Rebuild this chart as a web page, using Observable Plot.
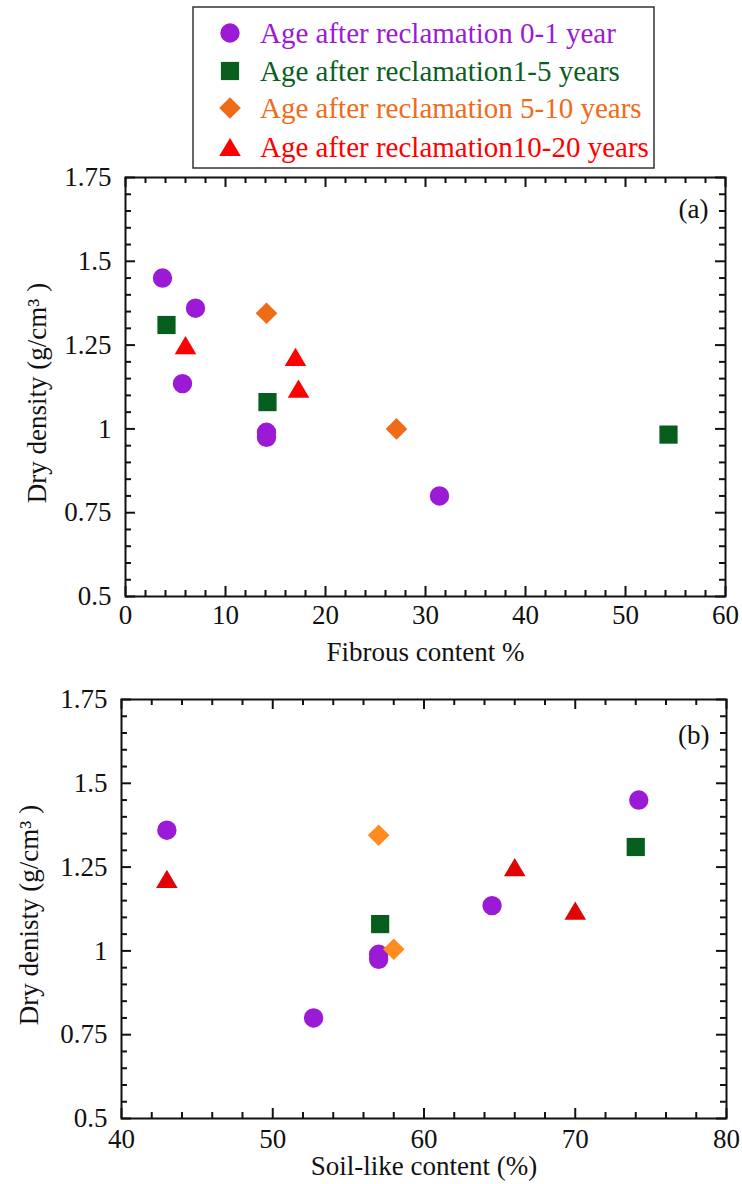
<!DOCTYPE html>
<html><head><meta charset="utf-8">
<script src="https://cdn.jsdelivr.net/npm/d3@7"></script>
<script src="https://cdn.jsdelivr.net/npm/@observablehq/plot@0.6"></script>
<style>
html,body{margin:0;padding:0;background:#fff;}
#wrap{position:relative;width:742px;height:1184px;overflow:hidden;font-family:"Liberation Serif","Times New Roman",serif;}
#wrap > svg{position:absolute;left:0;}
</style></head>
<body><div id="wrap"></div>
<script>
// ---------- data ----------
const seriesNames = ["Age after reclamation 0-1 year", "Age after reclamation1-5 years", "Age after reclamation 5-10 years", "Age after reclamation10-20 years"];
const legendColors = ["#9b1ad6", "#0a5f1f", "#f06b18", "#ff0000"];
const colorsA = ["#9b1ad6", "#065e1e", "#f06b16", "#ff0000"];
const colorsB = ["#9b1ad6", "#065e1e", "#ff8c1f", "#e00505"];

// Panel (a): fibrous content % vs dry density
const fibrous0_1 = [3.7, 7.0, 5.7, 14.1, 14.1, 31.4];
const densityA0_1 = [1.45, 1.36, 1.135, 0.99, 0.975, 0.80];
const fibrous1_5 = [4.1, 14.2, 54.3];
const densityA1_5 = [1.31, 1.08, 0.983];
const fibrous5_10 = [14.1, 27.1];
const densityA5_10 = [1.345, 1.0];
const fibrous10_20 = [6.0, 17.0, 17.3];
const densityA10_20 = [1.25, 1.215, 1.12];

// Panel (b): soil-like content % vs dry density
const soil0_1 = [74.2, 43.0, 64.5, 57.0, 57.0, 52.7];
const densityB0_1 = [1.45, 1.36, 1.135, 0.99, 0.975, 0.80];
const soil1_5 = [74.0, 57.1];
const densityB1_5 = [1.31, 1.08];
const soil5_10 = [57.0, 58.0];
const densityB5_10 = [1.345, 1.005];
const soil10_20 = [66.0, 43.0, 70.0];
const densityB10_20 = [1.25, 1.215, 1.12];

// ticks
const yDomain = [0.5, 1.75];
const yTicks = [0.5, 0.75, 1, 1.25, 1.5, 1.75];
const yTickLabels = ["0.5", "0.75", "1", "1.25", "1.5", "1.75"];
const yMinor = [0.55,0.6,0.65,0.7,0.8,0.85,0.9,0.95,1.05,1.1,1.15,1.2,1.3,1.35,1.4,1.45,1.55,1.6,1.65,1.7];
const xTicksA = [0, 10, 20, 30, 40, 50, 60];
const xMinorA = [2,4,6,8,12,14,16,18,22,24,26,28,32,34,36,38,42,44,46,48,52,54,56,58];
const xTicksB = [40, 50, 60, 70, 80];
const xMinorB = [42,44,46,48,52,54,56,58,62,64,66,68,72,74,76,78];

// ---------- symbols (centered on their bounding box) ----------
const BASE = Math.PI * 100;
const sc = size => Math.sqrt(size / BASE);
const symCircle = {draw(ctx, size){const r = 9.7*sc(size); ctx.moveTo(r,0); ctx.arc(0,0,r,0,2*Math.PI);}};
const symSquare = {draw(ctx, size){const h = 9.1*sc(size); ctx.rect(-h,-h,2*h,2*h);}};
const symDiamond = {draw(ctx, size){const h = 10.8*sc(size); ctx.moveTo(0,-h); ctx.lineTo(h,0); ctx.lineTo(0,h); ctx.lineTo(-h,0); ctx.closePath();}};
const symTriangle = {draw(ctx, size){const s = sc(size), w = 10.8*s, h = 9.1*s; ctx.moveTo(0,-h); ctx.lineTo(w,h); ctx.lineTo(-w,h); ctx.closePath();}};
const symbols = [symCircle, symSquare, symDiamond, symTriangle];

const FONT = '"Liberation Serif", "Times New Roman", serif';
const INK = "#111";

function panel(o) {
  const FH = o.height - o.mT - o.mB;
  const FW = 742 - o.mL - o.mR;
  const marks = [];
  const st = {stroke: INK, strokeWidth: 2};
  const tickSet = (xs, ys, len) => [
    Plot.tickX(xs, {x: d => d, insetTop: FH - len, ...st}),
    Plot.tickX(xs, {x: d => d, insetBottom: FH - len, ...st}),
    Plot.tickY(ys, {y: d => d, insetRight: FW - len, ...st}),
    Plot.tickY(ys, {y: d => d, insetLeft: FW - len, ...st})
  ];
  marks.push(...tickSet(o.xMajor, yTicks, 10));
  marks.push(...tickSet(o.xMinor, yMinor, 6));
  marks.push(Plot.frame({stroke: INK, strokeWidth: 2}));
  marks.push(Plot.axisX({ticks: o.xMajor, tickSize: 0, tickPadding: o.xPad, tickFormat: d => String(d), label: null, fontSize: 27}));
  marks.push(Plot.axisY({ticks: yTicks, tickSize: 0, tickPadding: 14, tickFormat: d => yTickLabels[yTicks.indexOf(d)], label: null, fontSize: 27}));
  o.series.forEach((s, i) => {
    const data = s.x.map((x, j) => ({x, y: s.y[j]}));
    marks.push(Plot.dot(data, {x: "x", y: "y", r: 10, symbol: symbols[i], fill: o.colors[i], stroke: "none"}));
  });
  marks.push(Plot.text([o.tag], {frameAnchor: "top-right", dx: -17, dy: o.tagDy, text: d => d, textAnchor: "end", lineAnchor: "middle", fontSize: 27, fill: INK}));
  marks.push(Plot.text([o.xLabel], {frameAnchor: "bottom", dy: o.xLabDy, text: d => d, textAnchor: "middle", lineAnchor: "middle", fontSize: 27, fill: INK}));
  marks.push(Plot.text([o.yLabel], {frameAnchor: "left", dx: o.yLabDx, dy: o.yLabDy, text: d => d, rotate: -90, textAnchor: "middle", lineAnchor: "middle", fontSize: 27, fill: INK}));
  return Plot.plot({
    width: 742, height: o.height,
    marginLeft: o.mL, marginRight: o.mR, marginTop: o.mT, marginBottom: o.mB,
    x: {domain: o.xDomain, axis: null},
    y: {domain: yDomain, axis: null},
    style: {fontFamily: FONT, fontSize: "27px", color: INK, background: "transparent"},
    marks
  });
}

const wrap = document.getElementById("wrap");

const svgA = panel({
  tag: "(a)", height: 672, mT: 177, mB: 76, mL: 125, mR: 17,
  xDomain: [0, 60], xMajor: xTicksA, xMinor: xMinorA, xPad: 8,
  xLabel: "Fibrous content %", xLabDy: 56,
  yLabel: "Dry density (g/cm³ )", yLabDx: -88, yLabDy: 6, tagDy: 32,
  colors: colorsA,
  series: [
    {x: fibrous0_1, y: densityA0_1}, {x: fibrous1_5, y: densityA1_5},
    {x: fibrous5_10, y: densityA5_10}, {x: fibrous10_20, y: densityA10_20}
  ]
});
svgA.style.top = "0px";
wrap.appendChild(svgA);

const svgB = panel({
  tag: "(b)", height: 512, mT: 27, mB: 66, mL: 121, mR: 16,
  xDomain: [40, 80], xMajor: xTicksB, xMinor: xMinorB, xPad: 10,
  xLabel: "Soil-like content (%)", xLabDy: 48,
  yLabel: "Dry denisty (g/cm³ )", yLabDx: -92, yLabDy: 6, tagDy: 36,
  colors: colorsB,
  series: [
    {x: soil0_1, y: densityB0_1}, {x: soil1_5, y: densityB1_5},
    {x: soil5_10, y: densityB5_10}, {x: soil10_20, y: densityB10_20}
  ]
});
svgB.style.top = "672px";
wrap.appendChild(svgB);

// ---------- legend (drawn above panel a) ----------
const leg = d3.create("svg").attr("width", 742).attr("height", 172)
  .style("position", "absolute").style("left", "0px").style("top", "0px")
  .attr("font-family", FONT);
leg.append("rect").attr("x", 193).attr("y", 7).attr("width", 461).attr("height", 161)
  .attr("fill", "white").attr("stroke", "#333").attr("stroke-width", 1.5);
const rowY = [33, 71, 108, 147];
seriesNames.forEach((name, i) => {
  leg.append("path").attr("transform", `translate(230,${rowY[i]})`)
    .attr("d", d3.symbol(symbols[i], BASE)()).attr("fill", legendColors[i]);
  leg.append("text").attr("x", 260).attr("y", rowY[i] + 9.6).attr("font-size", 29)
    .attr("fill", legendColors[i]).text(name);
});
wrap.appendChild(leg.node());
</script>
</body></html>
